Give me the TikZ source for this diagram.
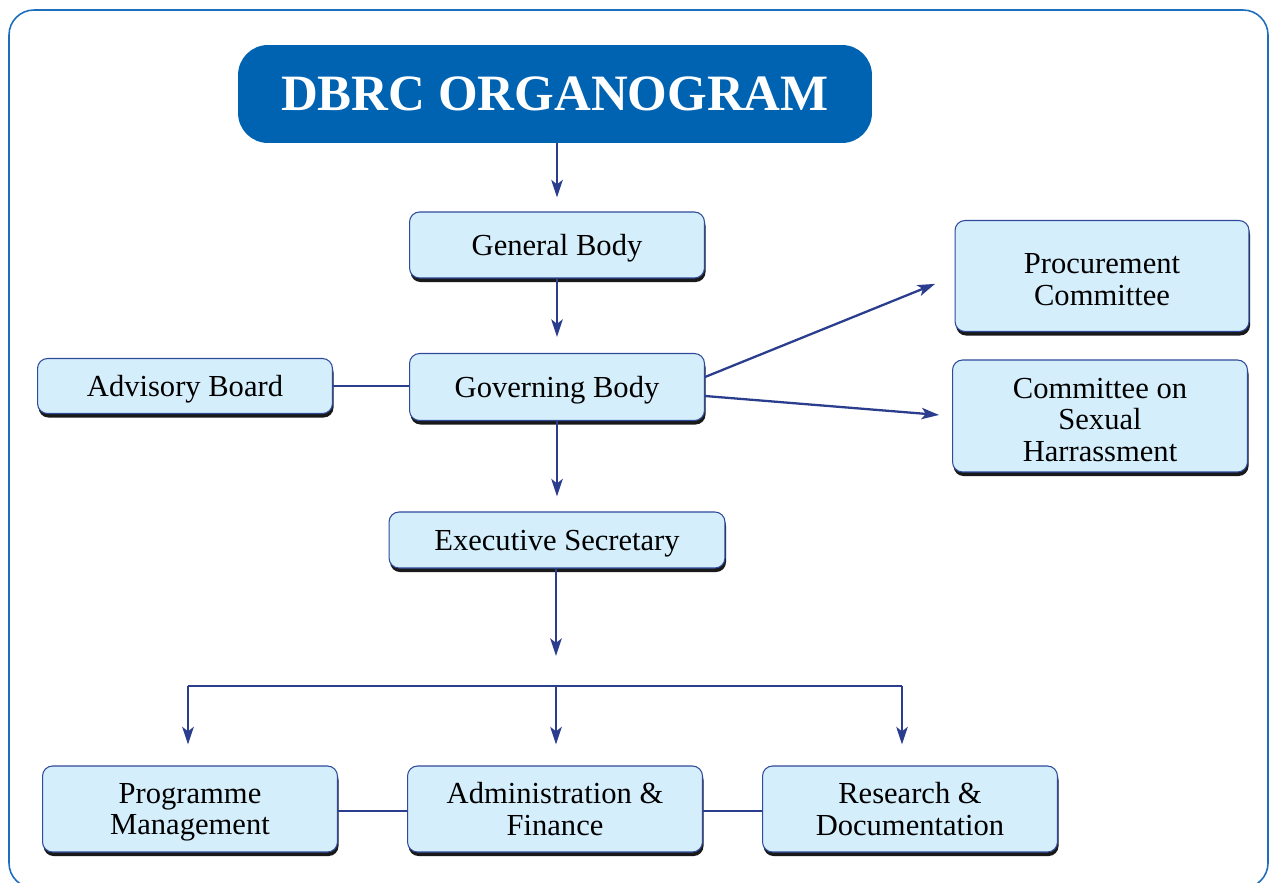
\documentclass[tikz,border=0pt]{standalone}
\usepackage{fontspec}
\setmainfont{Liberation Serif}
\usetikzlibrary{arrows.meta,shadows}
\definecolor{boxfill}{HTML}{D5EEFB}
\definecolor{boxline}{HTML}{2E4A9A}
\definecolor{arrcol}{HTML}{2B3E8E}
\definecolor{titlefill}{HTML}{0063B2}
\definecolor{framecol}{HTML}{1E6EBE}
\newcommand{\topstrut}{\rule{0pt}{15.8pt}}
\newcommand{\nodepth}[1]{\raisebox{0pt}[\height][0pt]{#1}}
\begin{document}
\begin{tikzpicture}[x=0.02cm,y=-0.02cm,
  orgbox/.style={draw=boxline, line width=0.6pt, fill=boxfill, rounded corners=0.2cm,
    align=center, font=\fontsize{17.4}{18}\selectfont, inner sep=0pt,
    execute at begin node={\rule{0pt}{15.8pt}},
    drop shadow={shadow xshift=0.6pt, shadow yshift=-2.3pt, fill=black, opacity=0.9}},
  conn/.style={draw=arrcol, line width=1.3pt},
  arr/.style={conn, -{Stealth[length=10pt,width=6.5pt,inset=2.5pt]}}]
\useasboundingbox (0,0) rectangle (1270,882);
\draw[framecol, line width=0.9pt, rounded corners=0.5cm] (9,10) rectangle (1268,888);

\node[fill=titlefill, rounded corners=0.6cm, minimum width=12.68cm, minimum height=1.96cm,
  text=white, font=\fontsize{29}{30}\selectfont\bfseries] (title) at (555,94) {DBRC ORGANOGRAM};

\node[orgbox, minimum width=5.9cm, minimum height=1.32cm] (general) at (557,245) {General Body};
\node[orgbox, minimum width=5.9cm, minimum height=1.34cm] (gov) at (557,387) {Governing Body};
\node[orgbox, minimum width=5.9cm, minimum height=1.1cm] (adv) at (185,386) {Advisory Board};
\node[orgbox, minimum width=6.72cm, minimum height=1.12cm] (exec) at (557,540) {Executive Secretary};
\node[orgbox, minimum width=5.88cm, minimum height=2.22cm] (proc) at (1102,276) {\topstrut Procurement\\Committee};
\node[orgbox, minimum width=5.9cm, minimum height=2.24cm] (csh) at (1100,416) {\topstrut Committee on\\Sexual\\Harrassment};
\node[orgbox, minimum width=5.9cm, minimum height=1.72cm] (prog) at (190,809) {Programme\\\nodepth{Management}};
\node[orgbox, minimum width=5.9cm, minimum height=1.72cm] (admin) at (555,809) {Administration \&\\Finance};
\node[orgbox, minimum width=5.9cm, minimum height=1.72cm] (res) at (910,809) {Research \&\\Documentation};

\coordinate (hub) at (556,656);
\coordinate (barL) at (188,686);
\coordinate (barM) at (556,686);
\coordinate (barR) at (902,686);

\draw[arr, shorten >=0.28cm] (title.south -| general.north) -- (general.north);
\draw[arr, shorten >=0.32cm] (general.south) -- (gov.north);
\draw[arr, shorten >=0.30cm] (gov.south) -- (exec.north);
\draw[arr] (exec.south -| hub) -- (hub);
\draw[conn] (barL) -- (barR);
\draw[arr, shorten >=0.42cm] (barL) -- (barL |- prog.north);
\draw[arr, shorten >=0.42cm] (barM) -- (barM |- admin.north);
\draw[arr, shorten >=0.42cm] (barR) -- (barR |- res.north);

\draw[conn] (adv.east) -- (adv.east -| gov.west);
\draw[arr, shorten >=0.42cm] ([yshift=0.2cm]gov.east) -- (proc.west);
\draw[arr, shorten >=0.26cm] ([yshift=-0.18cm]gov.east) -- (csh.west);

\draw[conn] ([yshift=-0.04cm]prog.east) -- ([yshift=-0.04cm]prog.east -| admin.west);
\draw[conn] ([yshift=-0.04cm]admin.east) -- ([yshift=-0.04cm]admin.east -| res.west);
\end{tikzpicture}
\end{document}
